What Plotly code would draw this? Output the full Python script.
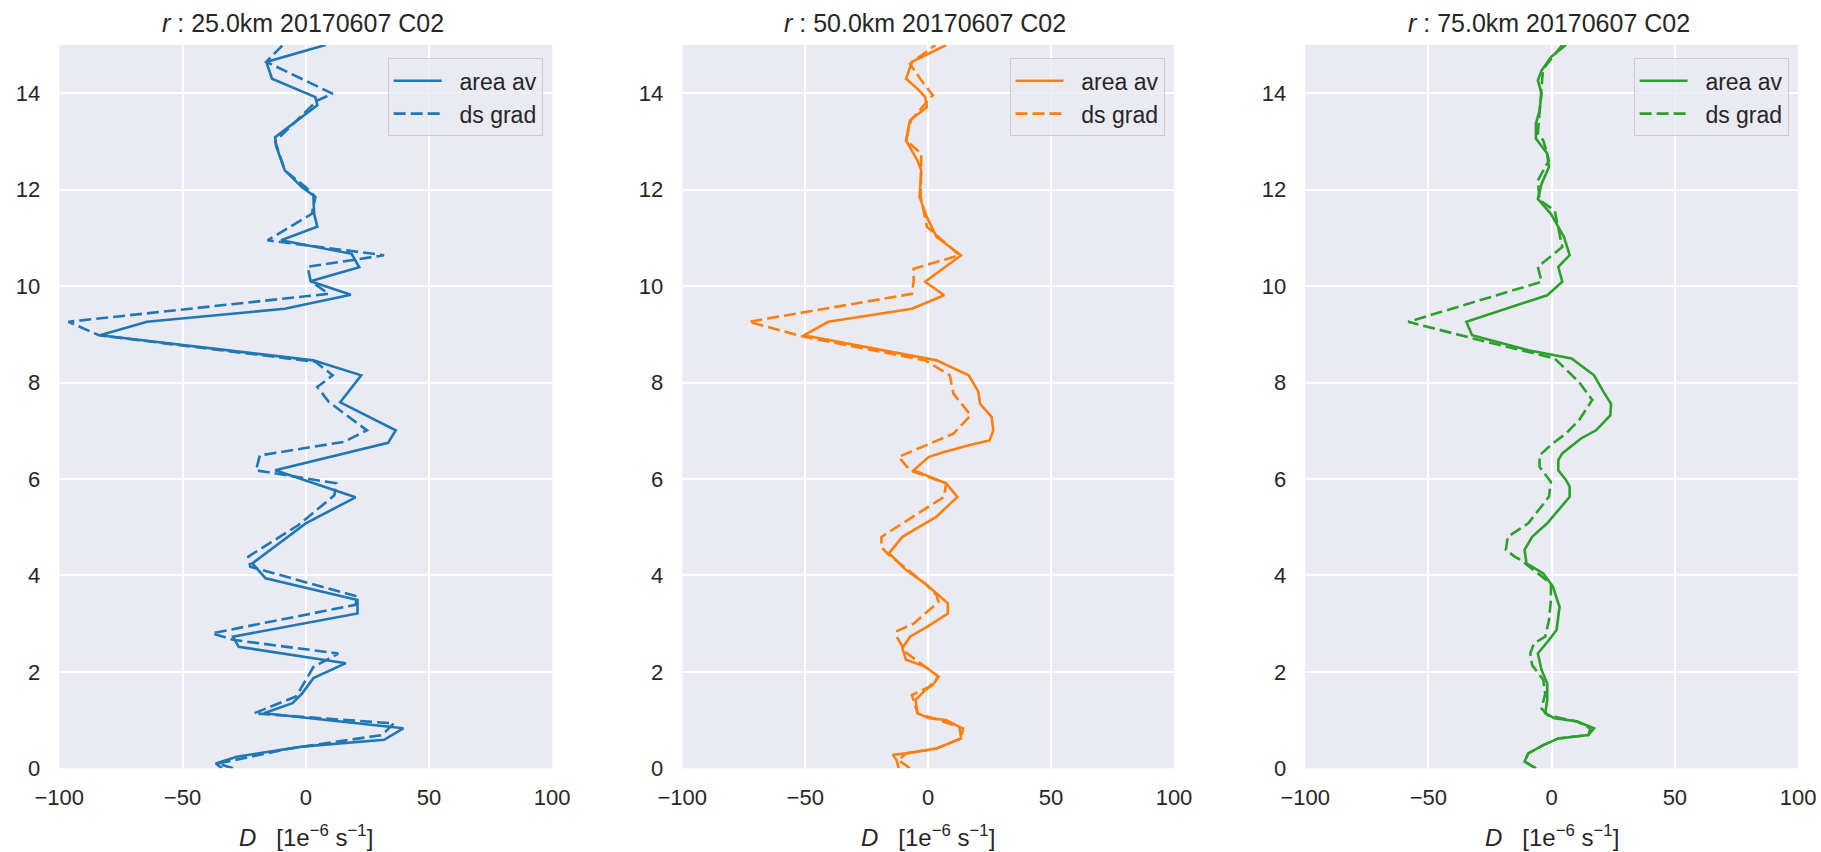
import plotly.graph_objects as go

# ---------------- data (height z in km, D in 1e-6 s^-1) ----------------
radii = ["25.0", "50.0", "75.0"]
colors = ["#1f77b4", "#ff7f0e", "#2ca02c"]
series_names = ["area av", "ds grad"]
x_ticks = [-100, -50, 0, 50, 100]
y_ticks = [0, 2, 4, 6, 8, 10, 12, 14]

# r = 25 km
z_area_25 = [0.0, 0.1, 0.24, 0.45, 0.59, 0.83, 1.14, 1.35, 1.55, 1.87,
             2.18, 2.52, 2.73, 3.21, 3.49, 3.94, 4.25, 5.08, 5.62, 6.18,
             6.75, 7.01, 7.59, 8.15, 8.46, 8.98, 9.26, 9.53, 9.82, 10.1,
             10.39, 10.67, 10.95, 11.23, 11.5, 11.88, 12.05, 12.4, 12.9, 13.09,
             13.75, 13.92, 14.3, 14.65, 15.0]
D_area_25 = [-34, -36.5, -28, -1.5, 31.8, 39.6, -17, -5.4, -1.5, 3.1,
             16.3, -27.2, -29.5, 21, 21, -16.3, -21.7, 0, 20.2, -12.4,
             33.4, 36.5, 14, 22.5, 3.1, -83.5, -64.4, -8.5, 18.3, 1.9,
             21.7, 18.6, -10, 4.7, 3.4, 3.1, -1.5, -8.5, -12, -12.4,
             4.7, 3.9, -13.7, -16, 8]
z_grad_25 = [0.0, 0.1, 0.41, 0.69, 0.93, 1.14, 1.49, 1.97, 2.1, 2.38,
             2.66, 2.8, 3.39, 3.56, 4.18, 4.39, 5.04, 5.66, 5.91, 6.18,
             6.49, 6.77, 7.01, 7.6, 7.91, 8.15, 8.43, 8.98, 9.26, 9.84,
             10.1, 10.4, 10.64, 10.95, 11.5, 11.85, 12.05, 12.4, 13.0, 13.85,
             13.99, 14.65, 15.0]
D_grad_25 = [-29.5, -35.7, -6.2, 31, 35.7, -21, -3.9, 1.6, 3.1, 13.2,
             -29, -38, 20.2, 21, -22.5, -23.3, -3.1, 11.6, 12.4, -20.2,
             -18.6, 15.5, 24.8, 9.3, 4.7, 10.9, 3.9, -83.9, -96.3, 9.3,
             2, 0.8, 31.8, -15.5, 2.5, 3.9, 0, -8.5, -12.4, 4.7,
             10.9, -16, -9.3]

# r = 50 km
z_area_50 = [0.0, 0.17, 0.28, 0.31, 0.41, 0.62, 0.86, 1.0, 1.04, 1.14,
             1.42, 1.62, 1.73, 1.9, 2.11, 2.25, 2.49, 2.73, 2.94, 3.21,
             3.42, 3.83, 4.11, 4.46, 4.8, 5.22, 5.63, 5.91, 6.18, 6.46,
             6.56, 6.7, 6.8, 7.01, 7.29, 7.56, 7.81, 8.15, 8.46, 8.98,
             9.26, 9.53, 9.81, 10.09, 10.64, 11.02, 11.43, 11.85, 12.4, 12.6,
             13.02, 13.44, 13.71, 13.92, 14.09, 14.3, 14.65, 15.0]
D_area_50 = [-12, -12.8, -14.4, -9, 3.4, 13.4, 12.7, 7.3, 0.3, -4.3,
             -5.1, -1.2, 1.9, 4.2, -1.2, -9, -10.5, -7.4, -0.3, 8,
             8, -1.2, -9, -15.9, -10.5, 3.4, 11.9, 7.3, -5.9, 0.3,
             6.5, 16.5, 25, 26.5, 25.8, 21.1, 20.4, 16.5, 3.4, -50.6,
             -40.6, -6.6, 6.5, -1.2, 13.4, 3.4, -0.5, -3.5, -2.8, -4.3,
             -9, -7.4, -0.5, -1.2, -4.3, -9, -6.6, 7.3]
z_grad_50 = [0.0, 0.17, 0.31, 0.41, 0.62, 0.83, 1.04, 1.14, 1.52, 1.69,
             1.9, 2.11, 2.4, 2.73, 2.85, 3.0, 3.45, 3.59, 3.83, 4.46,
             4.59, 4.8, 5.63, 5.91, 6.18, 6.46, 6.94, 7.32, 7.77, 8.15,
             8.46, 8.95, 9.26, 9.84, 10.09, 10.36, 10.64, 11.23, 11.85, 12.75,
             13.02, 13.44, 13.96, 14.27, 14.61, 15.0]
D_grad_50 = [-7.4, -12, -9, 3.4, 13.4, 14.2, 2, -4.3, -6.6, 0.3,
             4.2, -1.2, -9, -12.8, -12.5, -5.9, 4.2, 3.4, -1.2, -16.7,
             -19, -19, 6.5, 7.3, -7.4, -12, 10.3, 17.3, 10.3, 8.8,
             -1.2, -50.6, -73, -6.6, -5.9, -5.9, 12.7, -0.5, -3, -2.8,
             -9, -7, 1.9, -2.8, -7.4, 3]

# r = 75 km
z_area_75 = [0.0, 0.14, 0.31, 0.48, 0.62, 0.69, 0.83, 0.97, 1.04, 1.14,
             1.42, 1.76, 2.04, 2.38, 2.66, 2.87, 3.35, 3.77, 4.04, 4.25,
             4.53, 4.8, 5.08, 5.35, 5.63, 5.84, 5.98, 6.18, 6.39, 6.53,
             6.84, 7.01, 7.32, 7.56, 7.81, 8.15, 8.5, 8.67, 8.98, 9.26,
             9.81, 10.09, 10.4, 10.64, 11.02, 11.23, 11.5, 11.81, 12.12, 12.47,
             12.75, 13.06, 13.37, 13.64, 13.99, 14.27, 14.47, 14.75, 15.0]
D_area_75 = [-6.4, -11, -9.5, -3.4, 2.7, 14.9, 17.2, 10.4, 1.2, -2.6,
             -1.8, -1.8, -4.1, -5.6, -1.1, 2.0, 3.2, 0.5, -3.4, -10.2,
             -11, -7.9, -1.8, 2.7, 7.3, 7.3, 5.8, 2.7, 2.7, 4.3,
             11.9, 18, 23.8, 24.1, 21, 17.2, 8.1, -9.5, -32.3, -34.6,
             -1.8, 4.3, 2.7, 7.3, 5, 2.7, -0.3, -5.6, -4.1, -1.1,
             -1.8, -6.4, -6.4, -4.9, -4.1, -5.6, -4.1, -0.3, 5.8]
z_grad_75 = [0.0, 0.14, 0.31, 0.48, 0.62, 0.69, 0.83, 0.97, 1.1, 1.24,
             1.55, 1.83, 2.14, 2.38, 2.59, 2.73, 3.07, 3.49, 3.83, 4.32,
             4.39, 4.53, 4.8, 5.08, 5.63, 5.94, 6.25, 6.49, 6.74, 6.94,
             7.22, 7.64, 8.01, 8.5, 8.91, 9.26, 10.09, 10.4, 10.81, 11.23,
             11.57, 11.78, 12.19, 12.61, 13.02, 13.16, 14.06, 14.5, 15.0]
D_grad_75 = [-6.4, -11, -9.5, -3.4, 2.7, 14.9, 15.7, 10.4, -1.5, -4.1,
             -2.6, -3.4, -7.9, -8.7, -7.2, -2.6, -1.1, -0.3, -0.3, -12.5,
             -15, -18.6, -17.8, -9.5, -1.1, -0.3, -4.9, -4.9, 0.5, 5.8,
             11.1, 16.5, 11.1, 1.2, -31.6, -58.2, -4.1, -5.6, 4.3, 2.7,
             1.2, -4.9, -5.6, -1.1, -3.4, -5.6, -4.1, -3.5, 4.3]

panels = [
    (z_area_25, D_area_25, z_grad_25, D_grad_25),
    (z_area_50, D_area_50, z_grad_50, D_grad_50),
    (z_area_75, D_area_75, z_grad_75, D_grad_75),
]

# ---------------- layout geometry (pixels) ----------------
W, H = 1821, 852
x_dom_px = [(59.3, 552.2), (682.3, 1174.0), (1305.2, 1798.1)]
y_top_px, y_bot_px = 45.0, 768.3
TXT = "#262626"
FONT = "Liberation Sans, Arial, sans-serif"
PAD = "\u00a0\u00a0"  # gap between legend line sample and label

fig = go.Figure()
for i, (za, Da, zg, Dg) in enumerate(panels):
    sfx = "" if i == 0 else str(i + 1)
    leg = "legend" if i == 0 else f"legend{i + 1}"
    fig.add_trace(go.Scatter(x=Da, y=za, mode="lines", name=PAD + series_names[0],
                             line=dict(color=colors[i], width=2.6),
                             xaxis="x" + sfx, yaxis="y" + sfx, legend=leg))
    fig.add_trace(go.Scatter(x=Dg, y=zg, mode="lines", name=PAD + series_names[1],
                             line=dict(color=colors[i], width=2.6, dash="12px,5px"),
                             xaxis="x" + sfx, yaxis="y" + sfx, legend=leg))

layout = dict(width=W, height=H, margin=dict(l=0, r=0, t=0, b=0, autoexpand=False),
              paper_bgcolor="white", plot_bgcolor="#EAEAF2",
              font=dict(family=FONT, color=TXT, size=22),
              annotations=[])
ydom = [1 - y_bot_px / H, 1 - y_top_px / H]
for i in range(3):
    sfx = "" if i == 0 else str(i + 1)
    x0, x1 = x_dom_px[i]
    layout["xaxis" + sfx] = dict(domain=[x0 / W, x1 / W], anchor="y" + sfx,
                                 range=[-100, 100], tickvals=x_ticks,
                                 showgrid=True, gridcolor="white", gridwidth=1.8,
                                 zeroline=False, showline=False, ticks="",
                                 automargin=False, ticklabelstandoff=14,
                                 tickfont=dict(size=22, color=TXT, family=FONT))
    layout["yaxis" + sfx] = dict(domain=ydom, anchor="x" + sfx,
                                 range=[0, 15], tickvals=y_ticks,
                                 showgrid=True, gridcolor="white", gridwidth=1.8,
                                 zeroline=False, showline=False, ticks="",
                                 automargin=False, ticklabelstandoff=18,
                                 tickfont=dict(size=22, color=TXT, family=FONT))
    leg = "legend" if i == 0 else f"legend{i + 1}"
    layout[leg] = dict(x=(x1 - 9.5) / W, y=1 - 58.3 / H, xanchor="right", yanchor="top",
                       bgcolor="rgba(234,234,242,0.8)", bordercolor="#CCCCCC",
                       borderwidth=1, font=dict(size=23, color=TXT, family=FONT),
                       itemwidth=48)
    cx = (x0 + x1) / 2
    layout["annotations"].append(dict(
        text=f"<i>r</i> : {radii[i]}km 20170607 C02", x=(cx - 3) / W, y=1 - 23 / H,
        xref="paper", yref="paper", xanchor="center", yanchor="middle",
        showarrow=False, font=dict(size=25, color=TXT, family=FONT)))
    layout["annotations"].append(dict(
        text="<i>D</i>&nbsp;&nbsp; [1e<sup>−6</sup>&nbsp;s<sup>−1</sup>]", x=cx / W, y=1 - 836 / H,
        xref="paper", yref="paper", xanchor="center", yanchor="middle",
        showarrow=False, font=dict(size=24, color=TXT, family=FONT)))

fig.update_layout(**layout)
fig.write_html("out.html")
